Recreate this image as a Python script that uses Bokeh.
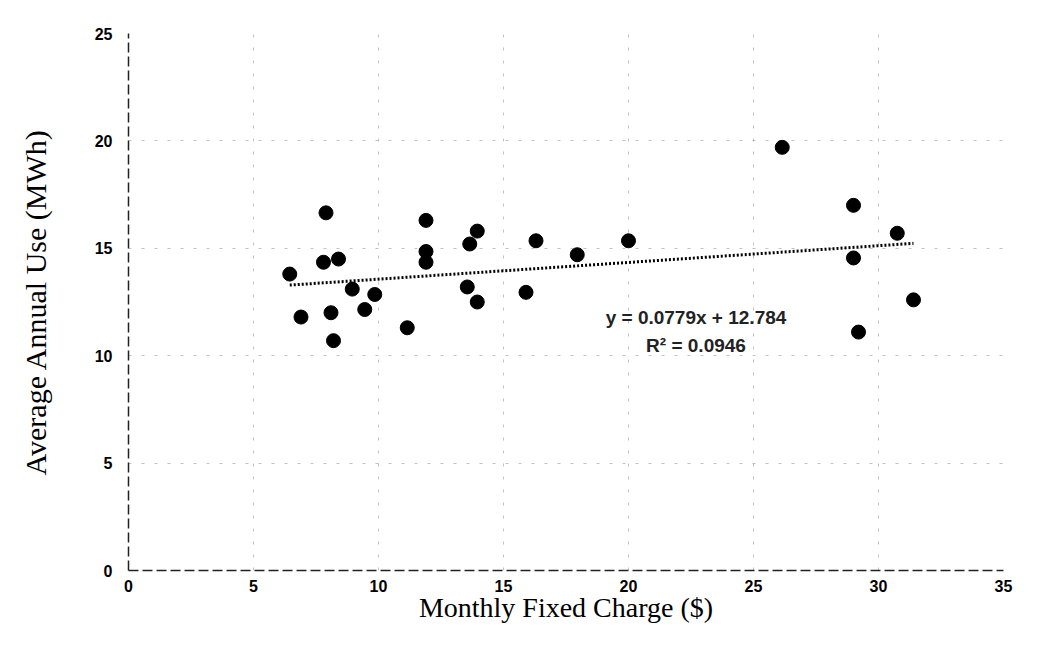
from bokeh.plotting import figure
from bokeh.models import Range1d, FixedTicker, ColumnDataSource, Label
from bokeh.embed import file_html
from bokeh.resources import INLINE

# Data
charge = [6.45, 6.9, 7.9, 7.8, 8.4, 8.1, 8.2, 8.95, 9.85, 9.45, 11.15, 11.9, 11.9, 11.9,
          13.95, 13.65, 13.55, 13.95, 15.9, 16.3, 17.95, 20.0, 26.15, 29.0, 29.0, 29.2, 30.75, 31.4]
use = [13.8, 11.8, 16.65, 14.35, 14.5, 12.0, 10.7, 13.1, 12.85, 12.15, 11.3, 16.3, 14.85, 14.35,
       15.8, 15.2, 13.2, 12.5, 12.95, 15.35, 14.7, 15.35, 19.7, 17.0, 14.55, 11.1, 15.7, 12.6]
slope = 0.0779
intercept = 12.784
x_ticks = [0, 5, 10, 15, 20, 25, 30, 35]
y_ticks = [0, 5, 10, 15, 20, 25]
eq_text = "y = 0.0779x + 12.784"
r2_text = "R² = 0.0946"

p = figure(width=1030, height=641, output_backend="svg", toolbar_location=None,
           x_range=Range1d(0, 35), y_range=Range1d(0, 25),
           min_border_left=128, min_border_right=27, min_border_top=33, min_border_bottom=71)
p.outline_line_color = None
p.background_fill_color = "white"

# grid
for g in (p.xgrid, p.ygrid):
    g.grid_line_color = "#888888"
    g.grid_line_dash = "3 10"
    g.grid_line_alpha = 0.5
p.xaxis.ticker = FixedTicker(ticks=x_ticks)
p.yaxis.ticker = FixedTicker(ticks=y_ticks)
p.xgrid.ticker = FixedTicker(ticks=x_ticks[1:])
p.ygrid.ticker = FixedTicker(ticks=y_ticks[1:])

for ax in (p.xaxis, p.yaxis):
    ax.major_tick_line_color = None
    ax.minor_tick_line_color = None
    ax.axis_line_color = "#222222"
    ax.axis_line_dash = "10 4"
    ax.axis_line_width = 1.5
    ax.major_label_text_font = "Liberation Sans"
    ax.major_label_text_font_style = "bold"
    ax.major_label_text_font_size = "16px"
    ax.major_label_text_color = "black"
    ax.axis_label_text_font = "Liberation Serif"
    ax.axis_label_text_font_style = "normal"
    ax.axis_label_text_color = "black"

p.xaxis.axis_label = "Monthly Fixed Charge ($)"
p.yaxis.axis_label = "Average Annual Use (MWh)"
p.xaxis.axis_label_text_font_size = "28px"
p.yaxis.axis_label_text_font_size = "30px"
p.xaxis.major_label_standoff = 3
p.xaxis.axis_label_standoff = -3
p.yaxis.major_label_standoff = 10
p.yaxis.axis_label_standoff = 40

src = ColumnDataSource(data=dict(x=charge, y=use))
p.scatter("x", "y", source=src, size=14, fill_color="black", line_color="black")

xmin, xmax = min(charge), max(charge)
p.line([xmin, xmax], [slope * xmin + intercept, slope * xmax + intercept],
       line_color="black", line_width=3, line_dash="2 2")

p.add_layout(Label(x=22.7, y=11.78, text=eq_text, text_align="center", text_baseline="middle",
                   text_font="Liberation Sans", text_font_size="19px", text_font_style="bold",
                   text_color="#222222"))
p.add_layout(Label(x=22.7, y=10.47, text=r2_text, text_align="center", text_baseline="middle",
                   text_font="Liberation Sans", text_font_size="19px", text_font_style="bold",
                   text_color="#222222"))

open("out.html", "w").write(file_html(p, INLINE))
